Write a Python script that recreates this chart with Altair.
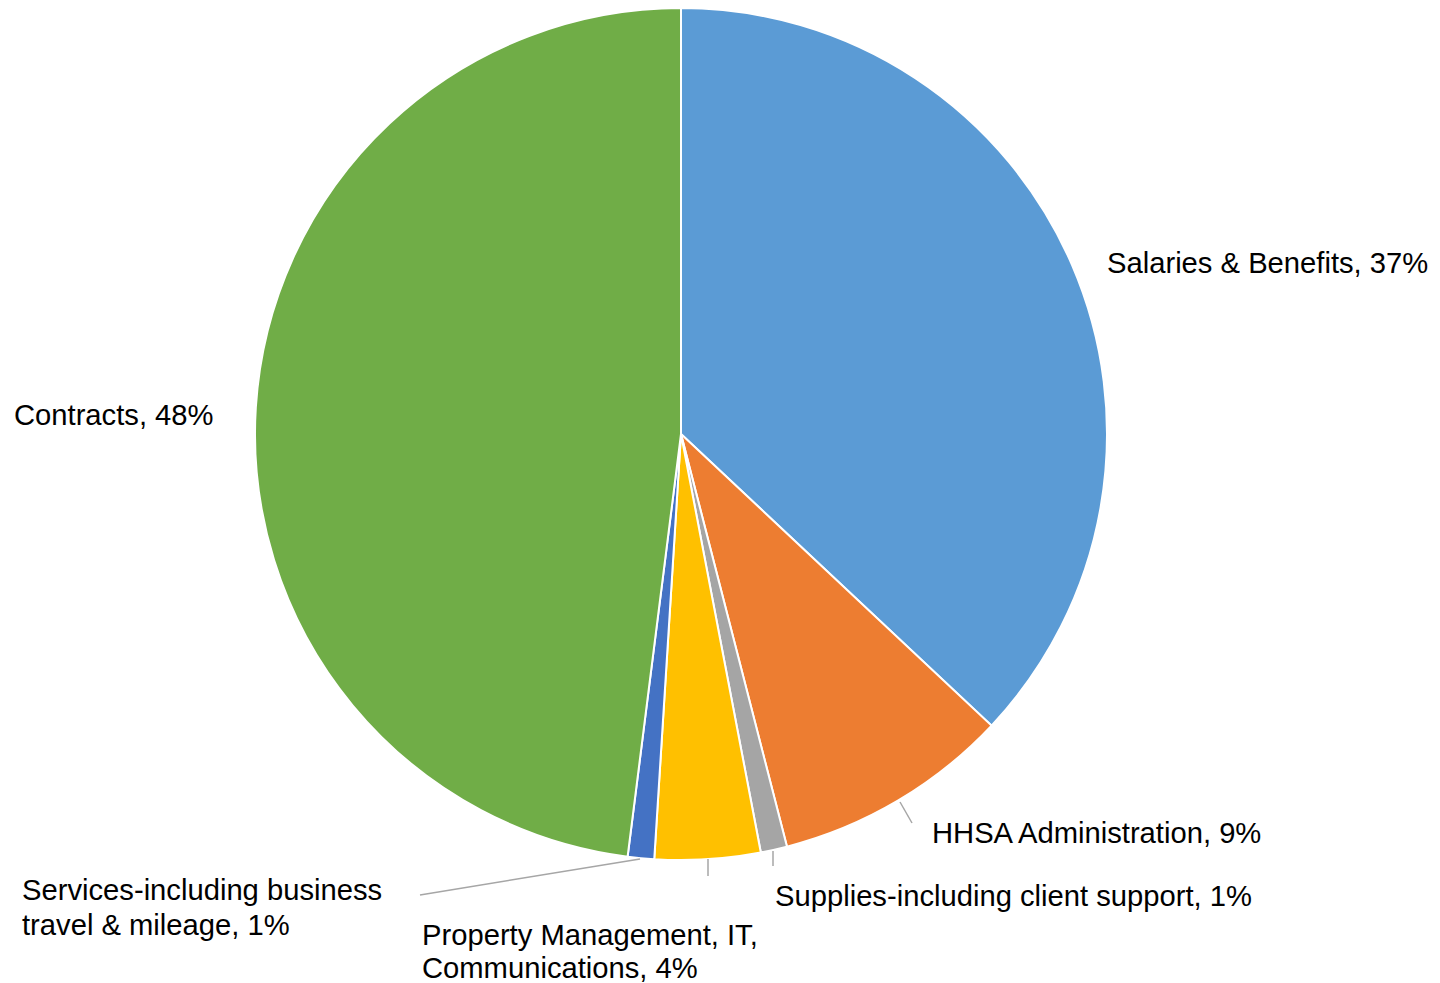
import altair as alt
import pandas as pd

# ---- data ----
categories = [
    "Salaries & Benefits",
    "HHSA Administration",
    "Supplies-including client support",
    "Property Management, IT, Communications",
    "Services-including business travel & mileage",
    "Contracts",
]
values = [37.0, 9.0, 1.0, 4.0, 1.0, 48.0]
colors = ["#5B9BD5", "#ED7D31", "#A5A5A5", "#FFC000", "#4472C4", "#70AD47"]

# label text (one entry per line)
label_text = [
    "Salaries & Benefits, 37%",
    "HHSA Administration, 9%",
    "Supplies-including client support, 1%",
    "Property Management, IT,",
    "Communications, 4%",
    "Services-including business",
    "travel & mileage, 1%",
    "Contracts, 48%",
]
# ---- layout (positions kept apart from the data) ----
label_x = [1107, 932, 775, 422, 422, 22, 22, 14]
label_y = [273, 843, 906, 945, 978, 900, 935, 425]

leader_x1 = [900, 773, 708, 640]
leader_y1 = [802, 851, 859, 859]
leader_x2 = [912, 773, 708, 420]
leader_y2 = [823, 866, 876, 895]

CX, CY, R = 681, 434, 426

pie_df = pd.DataFrame({"category": categories, "value": values, "idx": list(range(len(values)))})
lab_df = pd.DataFrame({"text": label_text, "x": label_x, "y": label_y})
lead_df = pd.DataFrame({"x": leader_x1, "y": leader_y1, "x2": leader_x2, "y2": leader_y2})

pie = alt.Chart(pie_df).mark_arc(radius=R, stroke="white", strokeWidth=2).encode(
    theta=alt.Theta("value:Q", stack=True),
    color=alt.Color("category:N", scale=alt.Scale(domain=categories, range=colors), legend=None),
    order=alt.Order("idx:Q"),
    x=alt.value(CX),
    y=alt.value(CY),
)

leaders = alt.Chart(lead_df).mark_rule(color="#A6A6A6", strokeWidth=1.5).encode(
    x=alt.X("x:Q", scale=None, axis=None),
    y=alt.Y("y:Q", scale=None, axis=None),
    x2="x2:Q",
    y2="y2:Q",
)

labels = alt.Chart(lab_df).mark_text(
    align="left", baseline="alphabetic", font="Liberation Sans", fontSize=29.2, color="#000000"
).encode(
    x=alt.X("x:Q", scale=None, axis=None),
    y=alt.Y("y:Q", scale=None, axis=None),
    text="text:N",
)

chart = alt.layer(pie, leaders, labels).properties(
    width=1440, height=983, autosize=alt.AutoSizeParams(type="none"), padding=0,
    background="white",
).configure_view(stroke=None)

chart.save("out.html", embed_options={"renderer": "svg", "actions": False})
